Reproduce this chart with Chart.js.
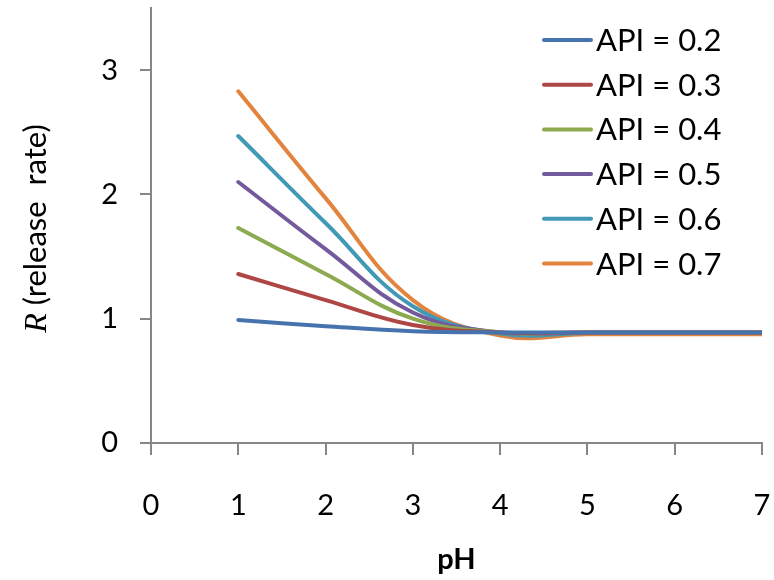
<!DOCTYPE html>
<html>
<head>
<meta charset="utf-8">
<script src="https://cdn.jsdelivr.net/npm/chart.js@4.4.1/dist/chart.umd.min.js"></script>
<style>
  html, body { margin: 0; padding: 0; background: #ffffff; }
  #wrap { width: 774px; height: 580px; }
</style>
</head>
<body>
<div id="wrap"><canvas id="c" width="774" height="580"></canvas></div>
<script>
// pH values and release rate for each API fraction
const phValues = [1, 2, 3, 4, 5, 6, 7];
const api02 = [0.99, 0.94, 0.90, 0.89, 0.89, 0.89, 0.89];
const api03 = [1.36, 1.15, 0.95, 0.89, 0.89, 0.89, 0.89];
const api04 = [1.73, 1.36, 1.00, 0.89, 0.89, 0.89, 0.89];
const api05 = [2.10, 1.56, 1.05, 0.89, 0.89, 0.89, 0.89];
const api06 = [2.47, 1.77, 1.10, 0.88, 0.885, 0.885, 0.885];
const api07 = [2.83, 1.97, 1.15, 0.865, 0.875, 0.875, 0.875];
const seriesNames = ['API = 0.2', 'API = 0.3', 'API = 0.4', 'API = 0.5', 'API = 0.6', 'API = 0.7'];
const xTicks = [0, 1, 2, 3, 4, 5, 6, 7];
const yTicks = [0, 1, 2, 3];

const colors = ['#4673AE', '#AE4643', '#8CAA4F', '#735A9C', '#4199B5', '#E2843E'];
const axisColor = '#868686';

function toPoints(ys) {
    return phValues.map(function (x, i) { return { x: x, y: ys[i] }; });
}

const allSeries = [api02, api03, api04, api05, api06, api07];
const datasets = allSeries.map(function (ys, i) {
    return {
        label: seriesNames[i],
        data: toPoints(ys),
        borderColor: colors[i],
        backgroundColor: colors[i],
        borderWidth: 4,
        borderCapStyle: 'round',
        pointRadius: 0,
        tension: 0.4,
        fill: false
    };
});

// legend drawn inside the plot, top right
const insideLegend = {
    id: 'insideLegend',
    afterDraw(chart) {
        const ctx = chart.ctx;
        ctx.save();
        ctx.font = '31px Lato';
        ctx.textBaseline = 'middle';
        ctx.textAlign = 'left';
        chart.data.datasets.forEach(function (ds, i) {
            const y = 40 + i * 44.7;
            ctx.strokeStyle = ds.borderColor;
            ctx.lineWidth = 4;
            ctx.lineCap = 'round';
            ctx.beginPath();
            ctx.moveTo(544, y);
            ctx.lineTo(591, y);
            ctx.stroke();
            ctx.fillStyle = '#000000';
            ctx.fillText(ds.label, 596, y + 1);
        });
        ctx.restore();
    }
};

// axis titles (italic R in a serif face)
const axisTitles = {
    id: 'axisTitles',
    afterDraw(chart) {
        const ctx = chart.ctx;
        const area = chart.chartArea;
        ctx.save();
        ctx.fillStyle = '#000000';
        ctx.textBaseline = 'middle';
        ctx.textAlign = 'left';
        ctx.translate(36, (area.top + area.bottom) / 2 + 3);
        ctx.rotate(-Math.PI / 2);
        const part1 = 'R';
        const part2 = ' (release  rate)';
        ctx.font = 'italic 32px "Liberation Serif"';
        const w1 = ctx.measureText(part1).width;
        ctx.font = '31px Lato';
        const w2 = ctx.measureText(part2).width;
        const start = -(w1 + w2) / 2;
        ctx.font = 'italic 32px "Liberation Serif"';
        ctx.fillText(part1, start, 2);
        ctx.font = '31px Lato';
        ctx.fillText(part2, start + w1, 0);
        ctx.restore();

        ctx.save();
        ctx.fillStyle = '#000000';
        ctx.font = 'bold 29px Lato';
        ctx.textAlign = 'center';
        ctx.textBaseline = 'middle';
        ctx.fillText('pH', (area.left + area.right) / 2, 560);
        ctx.restore();
    }
};

new Chart(document.getElementById('c'), {
    type: 'line',
    data: { datasets: datasets },
    options: {
        responsive: false,
        animation: false,
        layout: { padding: { left: 0, right: 12, top: 8, bottom: 0 } },
        plugins: {
            legend: { display: false },
            tooltip: { enabled: false }
        },
        scales: {
            x: {
                type: 'linear',
                min: 0,
                max: 7,
                afterBuildTicks: function (scale) {
                    scale.ticks = xTicks.map(function (v) { return { value: v }; });
                },
                afterFit: function (scale) {
                    scale.height = 137;
                    scale.paddingLeft = 0;
                    scale.paddingRight = 0;
                },
                grid: {
                    drawOnChartArea: false,
                    drawTicks: true,
                    tickLength: 12,
                    color: axisColor,
                    lineWidth: 2
                },
                border: { color: axisColor, width: 2 },
                ticks: {
                    color: '#000000',
                    font: { family: 'Lato', size: 29 },
                    padding: 33,
                    maxRotation: 0
                }
            },
            y: {
                type: 'linear',
                min: 0,
                max: 3.5,
                afterBuildTicks: function (scale) {
                    scale.ticks = yTicks.map(function (v) { return { value: v }; });
                },
                afterFit: function (scale) {
                    scale.width = 151;
                    scale.paddingTop = 0;
                    scale.paddingBottom = 0;
                },
                grid: {
                    drawOnChartArea: false,
                    drawTicks: true,
                    tickLength: 11,
                    color: axisColor,
                    lineWidth: 2
                },
                border: { color: axisColor, width: 2 },
                ticks: {
                    color: '#000000',
                    font: { family: 'Lato', size: 29 },
                    padding: 22
                }
            }
        }
    },
    plugins: [insideLegend, axisTitles]
});
</script>
</body>
</html>
